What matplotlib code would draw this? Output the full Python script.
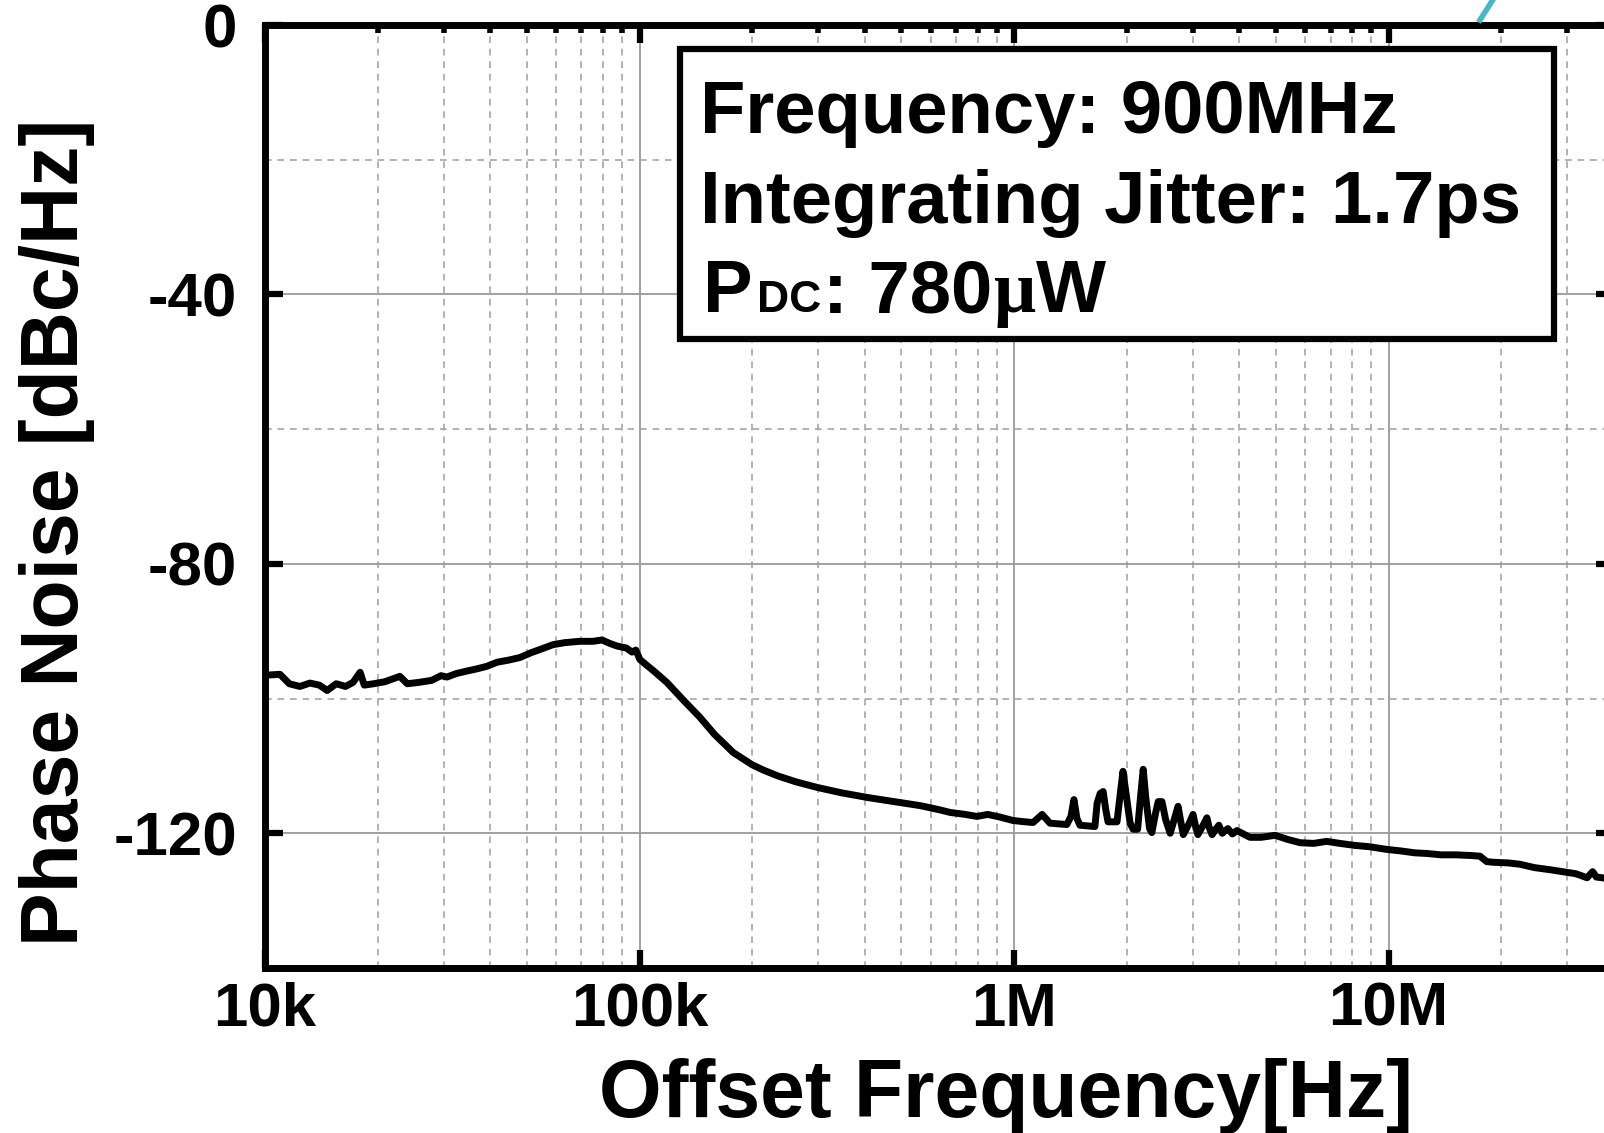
import numpy as np
import matplotlib
matplotlib.use("Agg")
import matplotlib.pyplot as plt
from matplotlib.ticker import FixedLocator, FixedFormatter, MultipleLocator, LogLocator, NullFormatter
from matplotlib.patches import Rectangle
from matplotlib.lines import Line2D

plt.rcParams["font.family"] = ["Liberation Sans", "DejaVu Sans"]
plt.rcParams["font.weight"] = "bold"

# measured phase noise, offset given as log10(Hz)
log_offset = [
    4.000, 4.010, 4.040, 4.065, 4.093, 4.120, 4.145, 4.166, 4.190, 4.215,
    4.235, 4.254, 4.265, 4.290, 4.320, 4.345, 4.360, 4.380, 4.410, 4.445,
    4.470, 4.486, 4.510, 4.540, 4.565, 4.593, 4.620, 4.650, 4.681, 4.710,
    4.740, 4.769, 4.800, 4.840, 4.876, 4.900, 4.920, 4.940, 4.965, 4.980,
    4.990, 5.001, 5.040, 5.073, 5.120, 5.160, 5.200, 5.250, 5.300, 5.330,
    5.370, 5.420, 5.475, 5.540, 5.610, 5.680, 5.750, 5.800, 5.829, 5.870,
    5.901, 5.930, 5.963, 5.997, 6.030, 6.051, 6.075, 6.096, 6.141, 6.152,
    6.160, 6.168, 6.176, 6.216, 6.222, 6.230, 6.238, 6.245, 6.251, 6.275,
    6.284, 6.291, 6.300, 6.310, 6.318, 6.330, 6.338, 6.345, 6.352, 6.362,
    6.368, 6.378, 6.385, 6.395, 6.405, 6.417, 6.430, 6.438, 6.445, 6.452,
    6.468, 6.478, 6.485, 6.491, 6.505, 6.515, 6.522, 6.529, 6.540, 6.547,
    6.556, 6.571, 6.583, 6.595, 6.630, 6.660, 6.697, 6.730, 6.764, 6.800,
    6.835, 6.870, 6.910, 6.950, 6.996, 7.030, 7.070, 7.103, 7.140, 7.180,
    7.220, 7.244, 7.262, 7.279, 7.320, 7.351, 7.390, 7.430, 7.477, 7.500,
    7.530, 7.545, 7.555, 7.570, 7.600,
]
phase_noise = [
    -96.7, -96.5, -96.4, -97.8, -98.2, -97.7, -98.0, -98.8, -97.8, -98.2,
    -97.6, -96.1, -98.0, -97.8, -97.5, -97.0, -96.7, -97.8, -97.6, -97.3,
    -96.6, -96.8, -96.3, -95.9, -95.6, -95.2, -94.6, -94.3, -93.9, -93.2,
    -92.6, -92.0, -91.7, -91.5, -91.5, -91.3, -91.8, -92.2, -92.5, -93.1,
    -92.8, -94.2, -96.0, -97.6, -100.4, -102.7, -105.3, -108.0, -109.8, -110.6,
    -111.5, -112.4, -113.2, -114.0, -114.7, -115.3, -115.9, -116.5, -116.9, -117.2,
    -117.5, -117.2, -117.6, -118.1, -118.3, -118.4, -117.2, -118.5, -118.7, -117.5,
    -115.0, -117.8, -118.8, -119.0, -115.5, -114.1, -113.8, -116.5, -118.3, -118.3,
    -114.0, -110.8, -114.5, -118.5, -119.4, -119.4, -114.5, -110.5, -114.8, -119.3,
    -119.9, -117.0, -115.3, -115.3, -118.0, -120.0, -117.5, -116.0, -118.2, -120.2,
    -118.5, -117.2, -119.0, -120.2, -118.8, -117.7, -119.3, -120.2, -119.3, -118.8,
    -120.0, -119.3, -120.1, -119.6, -120.6, -120.6, -120.3, -120.9, -121.4, -121.5,
    -121.2, -121.5, -121.8, -122.0, -122.4, -122.6, -122.9, -123.0, -123.2, -123.2,
    -123.3, -123.4, -124.2, -124.3, -124.4, -124.6, -125.1, -125.4, -125.8, -126.0,
    -126.6, -125.7, -126.5, -126.6, -126.9,
]
offset = 10 ** np.array(log_offset)

x_ticks = [1e4, 1e5, 1e6, 1e7]
x_ticklabels = ["10k", "100k", "1M", "10M"]
y_ticks = [0, -40, -80, -120]
y_ticklabels = ["0", "-40", "-80", "-120"]

info_lines = ["Frequency: 900MHz", "Integrating Jitter: 1.7ps"]

W, H = 1604, 1133
fig = plt.figure(figsize=(W / 100, H / 100), dpi=100)
ax = fig.add_axes([265 / W, 165 / H, 1349 / W, 943 / H])

ax.semilogx(offset, phase_noise, color="black", lw=5, zorder=3,
            solid_joinstyle="round", solid_capstyle="round")
ax.set_xlim(1e4, 4e7)
ax.set_ylim(-140, 0)

ax.xaxis.set_major_locator(FixedLocator(x_ticks))
ax.xaxis.set_major_formatter(FixedFormatter(x_ticklabels))
ax.xaxis.set_minor_locator(LogLocator(base=10, subs=np.arange(2, 10)))
ax.xaxis.set_minor_formatter(NullFormatter())
ax.yaxis.set_major_locator(FixedLocator(y_ticks))
ax.yaxis.set_major_formatter(FixedFormatter(y_ticklabels))
ax.yaxis.set_minor_locator(MultipleLocator(20))

ax.grid(True, which="major", color="#9a9a9a", lw=1.3, ls="-", zorder=1)
ax.grid(True, which="minor", color="#a5a5a5", lw=1.2, ls=(0, (4, 3.5)), zorder=1)

ax.tick_params(which="major", direction="in", length=13, width=4.5,
               top=True, right=True, bottom=True, left=True, labelsize=44.5)
ax.tick_params(axis="x", which="major", pad=10)
ax.tick_params(axis="y", which="major", pad=20)
ax.tick_params(which="minor", direction="in", length=6, width=4.0,
               top=True, bottom=False, left=False, right=False)
for lab in ax.get_xticklabels() + ax.get_yticklabels():
    lab.set_fontweight("bold")

for sp in ax.spines.values():
    sp.set_linewidth(5)
    sp.set_zorder(4)

ax.set_xlabel("Offset Frequency[Hz]", fontsize=58, fontweight="bold")
ax.xaxis.set_label_coords(0.549, -0.095)
ax.set_ylabel("Phase Noise [dBc/Hz]", fontsize=58, fontweight="bold")
ax.yaxis.set_label_coords(-0.126, 0.462)

# annotation box
box = Rectangle((680 / W, 1 - 339 / H), (1554 - 680) / W, (339 - 49) / H,
                transform=fig.transFigure, facecolor="white", edgecolor="black",
                lw=4.5, zorder=5, joinstyle="miter")
fig.add_artist(box)
fig.text(700 / W, 1 - 133 / H, info_lines[0], fontsize=53.5, fontweight="bold",
         ha="left", va="baseline", zorder=6)
fig.text(700 / W, 1 - 223 / H, info_lines[1], fontsize=53.5, fontweight="bold",
         ha="left", va="baseline", zorder=6)

renderer = fig.canvas.get_renderer()
base = 1 - 312 / H
xpos = 703 / W
pieces = [("P", 53.5, 4, "Liberation Sans"), ("DC", 32, 2, "Liberation Sans"),
          (": 780", 53.5, 1, "Liberation Sans"), ("\u03bc", 53.5, 1, "Liberation Serif"),
          ("W", 53.5, 0, "Liberation Sans")]
for txt, size, gap, fam in pieces:
    t = fig.text(xpos, base, txt, fontsize=size, fontweight="bold", family=[fam, "DejaVu Sans"],
                 ha="left", va="baseline", zorder=6)
    bb = t.get_window_extent(renderer)
    xpos = (bb.x1 + gap) / W

# stray stroke from neighbouring figure at top right
fig.add_artist(Line2D([1480 / W, 1494 / W], [1 - 20 / H, 1 + 2 / H],
                      transform=fig.transFigure, color="#4bb5c9", lw=4))

fig.savefig("out.png", dpi=100)
